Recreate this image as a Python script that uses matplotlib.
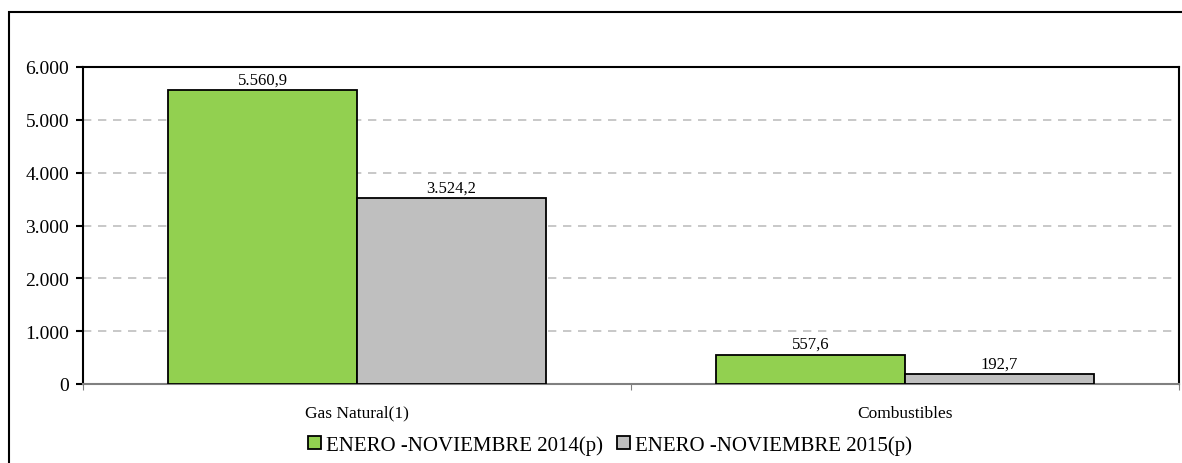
import matplotlib.pyplot as plt
from matplotlib.patches import Rectangle
from matplotlib.ticker import FixedLocator, FuncFormatter

categorias = ['Gas Natural(1)', 'Combustibles']
serie_2014 = [5560.9, 557.6]
serie_2015 = [3524.2, 192.7]
etiquetas = ['ENERO -NOVIEMBRE 2014(p)', 'ENERO -NOVIEMBRE 2015(p)']
yticks = [0, 1000, 2000, 3000, 4000, 5000, 6000]

VERDE = '#92D050'
GRIS = '#BFBFBF'


def fmt_miles(v, dec=0):
    s = f"{v:,.{dec}f}"
    return s.replace(',', 'X').replace('.', ',').replace('X', '.')


plt.rcParams['font.family'] = ['Liberation Serif', 'DejaVu Serif']

fig = plt.figure(figsize=(11.82, 4.64), dpi=100)

# marco exterior
fig.patches.append(Rectangle((9 / 1182, -0.05), 1.2, 1 - 13 / 464 + 0.05,
                             transform=fig.transFigure, fill=False,
                             edgecolor='black', linewidth=1.5))

ax = fig.add_axes([83 / 1182, 79 / 464, 1096 / 1182, 317 / 464])

x = list(range(len(categorias)))
w = 0.345
b1 = ax.bar([i - w / 2 for i in x], serie_2014, width=w, color=VERDE,
            edgecolor='black', linewidth=1.3, label=etiquetas[0], zorder=3)
b2 = ax.bar([i + w / 2 for i in x], serie_2015, width=w, color=GRIS,
            edgecolor='black', linewidth=1.3, label=etiquetas[1], zorder=3)

for barras in (b1, b2):
    for r in barras:
        h = r.get_height()
        ax.text(r.get_x() + r.get_width() / 2, h + 50, fmt_miles(h, 1),
                ha='center', va='bottom', fontsize=12)

ax.set_xlim(-0.5, 1.5)
ax.set_ylim(0, 6000)
ax.yaxis.set_major_locator(FixedLocator(yticks))
ax.yaxis.set_major_formatter(FuncFormatter(lambda v, p: fmt_miles(v)))
ax.grid(axis='y', color='#BFBFBF', linestyle=(0, (5, 4)), linewidth=1.2, zorder=0)

ax.set_xticks([-0.5, 0.5, 1.5], minor=False)
ax.set_xticklabels([])
ax.set_xticks(x, minor=True)
ax.set_xticklabels(categorias, minor=True, fontsize=12.5)
ax.tick_params(axis='x', which='minor', length=0, pad=15)
ax.tick_params(axis='x', which='major', length=4, color='#808080')
ax.tick_params(axis='y', length=5, width=1.5, labelsize=14, pad=5)

for s in ['left', 'top', 'right']:
    ax.spines[s].set_color('black')
    ax.spines[s].set_linewidth(1.5)
ax.spines['bottom'].set_color('#808080')
ax.spines['bottom'].set_linewidth(1.5)

ax.legend(loc='upper center', bbox_to_anchor=(0.481, -0.135), ncol=2, frameon=False,
          fontsize=15, handlelength=0.6, handleheight=0.6, handletextpad=0.25,
          columnspacing=0.7, borderaxespad=0)

fig.savefig('out.png', dpi=100)
